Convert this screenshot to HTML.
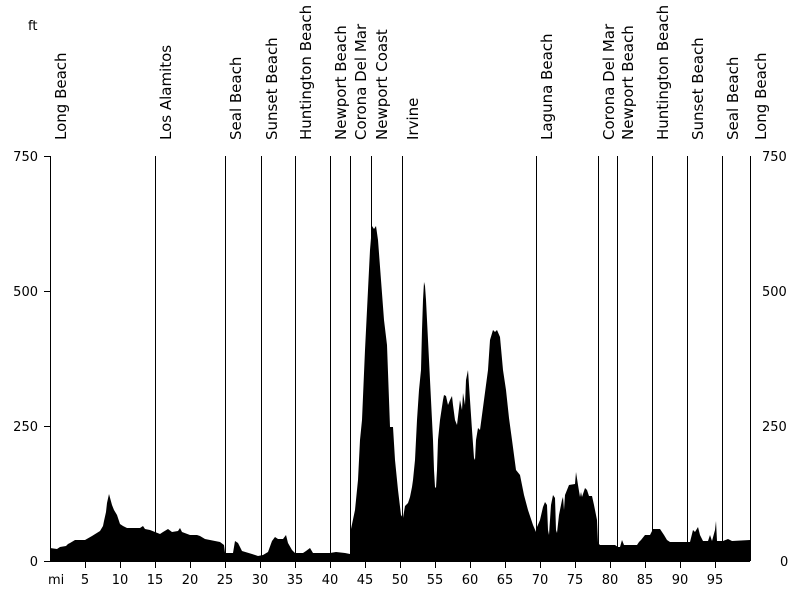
<!DOCTYPE html>
<html><head><meta charset="utf-8"><style>
html,body{margin:0;padding:0;background:#fff;}
svg{display:block;font-family:"DejaVu Sans","Liberation Sans",sans-serif;}
</style></head><body>
<svg width="800" height="600" viewBox="0 0 800 600" xmlns="http://www.w3.org/2000/svg">
<polygon fill="#000" points="50,561 50,548 57,549 60,547 66,546 68,544 70,543 75,540 85,540 92,536 100,531 103,526 104,521 106,512 107,503 109,494 112,505 114,510 117,515 119,521 120,524 123,526 127,528 140,528 143,526 145,529 150,530 155,532 160,534 163,532 168,529 172,532 178,531 180,528 182,532 190,535 197,535 200,536 205,539 215,541 220,542 224,545 225,553 233,553 235,541 238,543 242,551 252,554 258,556 263,555 268,552 272,541 275,537 278,539 283,539 286,535 288,543 292,550 295,553 303,553 306,551 310,548 313,553 330,553 336,552 345,553 350,554 351,529 355,510 358,480 360,440 362,420 365,350 368,290 370,250 372,226 374,229 376,226 378,240 381,280 384,320 387,345 390,427 393,427 395,460 398,490 401,515 403,518 405,506 408,503 410,497 412,487 413,480 415,460 417,420 419,390 421,370 422,330 423,300 424,282 425,286 426,300 428,340 430,380 432,420 433,440 434,470 435,487 436,488 437,470 438,440 440,420 443,400 444,395 446,396 448,405 450,400 452,396 453,405 455,420 457,425 460,400 462,410 463,393 465,405 466,380 468,370 470,400 472,430 474,458 475,460 476,440 478,428 480,430 482,415 484,400 486,385 488,370 490,340 493,330 495,332 497,330 500,337 503,370 506,390 509,418 512,440 514,455 516,470 520,475 524,495 528,510 533,525 536,532 537,527 540,520 543,507 545,502 547,505 548,530 549,535 550,520 551,505 553,495 555,498 556,530 557,533 559,515 562,500 563,497 564,510 565,495 567,490 569,485 575,484 576,472 578,485 580,497 581,492 582,497 585,488 587,490 589,496 592,496 594,505 597,520 598,543 600,545 605,545 615,545 618,547 620,547 622,540 624,545 637,545 639,542 641,540 645,535 650,535 653,529 660,529 664,535 667,540 670,542 690,542 693,530 695,532 698,527 700,535 703,541 708,541 710,535 712,541 715,530 716,521 717,541 723,541 728,539 732,541 750,540 750,561"/>
<g stroke="#000" stroke-width="1">
<line x1="50.5" y1="156" x2="50.5" y2="562"/>
<line x1="44" y1="156.5" x2="50" y2="156.5"/>
<line x1="44" y1="291.5" x2="50" y2="291.5"/>
<line x1="44" y1="426.5" x2="50" y2="426.5"/>
<line x1="44" y1="561.5" x2="50" y2="561.5"/>
<line x1="50" y1="561.5" x2="750" y2="561.5"/>
<line x1="155.5" y1="156" x2="155.5" y2="561"/>
<line x1="225.5" y1="156" x2="225.5" y2="561"/>
<line x1="261.5" y1="156" x2="261.5" y2="561"/>
<line x1="295.5" y1="156" x2="295.5" y2="561"/>
<line x1="330.5" y1="156" x2="330.5" y2="561"/>
<line x1="350.5" y1="156" x2="350.5" y2="561"/>
<line x1="371.5" y1="156" x2="371.5" y2="561"/>
<line x1="402.5" y1="156" x2="402.5" y2="561"/>
<line x1="536.5" y1="156" x2="536.5" y2="561"/>
<line x1="598.5" y1="156" x2="598.5" y2="561"/>
<line x1="617.5" y1="156" x2="617.5" y2="561"/>
<line x1="652.5" y1="156" x2="652.5" y2="561"/>
<line x1="687.5" y1="156" x2="687.5" y2="561"/>
<line x1="722.5" y1="156" x2="722.5" y2="561"/>
<line x1="750.5" y1="156" x2="750.5" y2="561"/>
</g>
<g font-size="13" fill="#000">
<text x="28" y="30">ft</text>
<text x="38" y="161" text-anchor="end">750</text>
<text x="38" y="296" text-anchor="end">500</text>
<text x="38" y="431" text-anchor="end">250</text>
<text x="38" y="566" text-anchor="end">0</text>
<text x="762" y="161">750</text>
<text x="762" y="296">500</text>
<text x="762" y="431">250</text>
<text x="780" y="566">0</text>
<text x="48" y="584">mi</text>
<g text-anchor="middle">
<text x="85" y="584">5</text><text x="120" y="584">10</text><text x="155" y="584">15</text><text x="190" y="584">20</text><text x="225" y="584">25</text><text x="260" y="584">30</text><text x="295" y="584">35</text><text x="330" y="584">40</text><text x="365" y="584">45</text><text x="400" y="584">50</text><text x="435" y="584">55</text><text x="470" y="584">60</text><text x="505" y="584">65</text><text x="540" y="584">70</text><text x="575" y="584">75</text><text x="610" y="584">80</text><text x="645" y="584">85</text><text x="680" y="584">90</text><text x="715" y="584">95</text>
</g>
<g font-size="15">
<text transform="translate(66,140) rotate(-90)">Long Beach</text>
<text transform="translate(171,140) rotate(-90)">Los Alamitos</text>
<text transform="translate(241,140) rotate(-90)">Seal Beach</text>
<text transform="translate(277,140) rotate(-90)">Sunset Beach</text>
<text transform="translate(311,140) rotate(-90)">Huntington Beach</text>
<text transform="translate(346,140) rotate(-90)">Newport Beach</text>
<text transform="translate(366,140) rotate(-90)">Corona Del Mar</text>
<text transform="translate(387,140) rotate(-90)">Newport Coast</text>
<text transform="translate(418,140) rotate(-90)">Irvine</text>
<text transform="translate(552,140) rotate(-90)">Laguna Beach</text>
<text transform="translate(614,140) rotate(-90)">Corona Del Mar</text>
<text transform="translate(633,140) rotate(-90)">Newport Beach</text>
<text transform="translate(668,140) rotate(-90)">Huntington Beach</text>
<text transform="translate(703,140) rotate(-90)">Sunset Beach</text>
<text transform="translate(738,140) rotate(-90)">Seal Beach</text>
<text transform="translate(766,140) rotate(-90)">Long Beach</text>
</g>
</g>
<path stroke="#000" stroke-width="1" d="M85.5 562v6M120.5 562v6M155.5 562v6M190.5 562v6M225.5 562v6M260.5 562v6M295.5 562v6M330.5 562v6M365.5 562v6M400.5 562v6M435.5 562v6M470.5 562v6M505.5 562v6M540.5 562v6M575.5 562v6M610.5 562v6M645.5 562v6M680.5 562v6M715.5 562v6"/>
</svg>
</body></html>
